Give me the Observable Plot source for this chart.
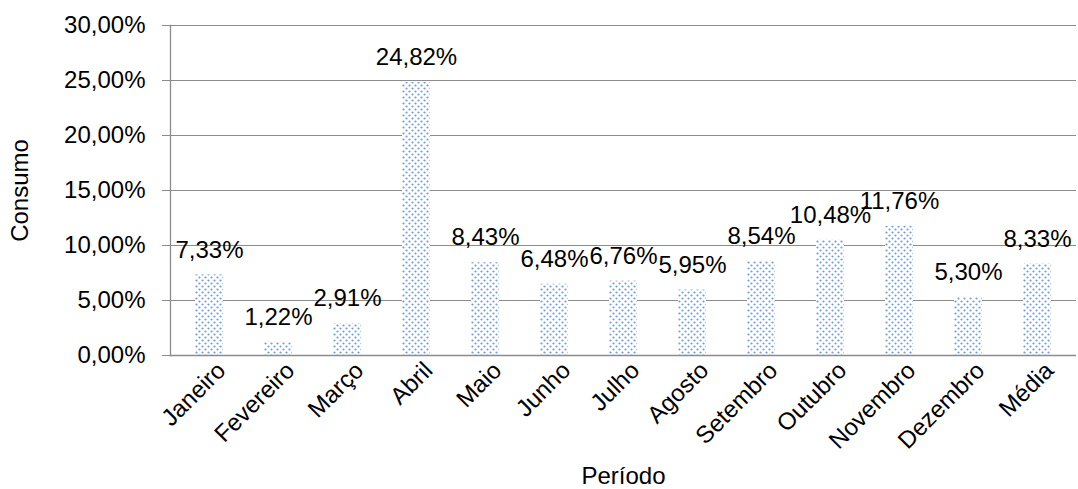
<!DOCTYPE html>
<html><head><meta charset="utf-8">
<script src="https://cdn.jsdelivr.net/npm/d3@7"></script>
<script src="https://cdn.jsdelivr.net/npm/@observablehq/plot@0.6"></script>
<style>body{margin:0;background:#fff;font-family:"Liberation Sans",Arial,sans-serif}</style>
</head><body>
<svg width="0" height="0" style="position:absolute">
  <defs>
    <pattern id="dots" patternUnits="userSpaceOnUse" width="6" height="6">
      <rect width="6" height="6" fill="#ffffff"/>
      <circle cx="1.5" cy="1.5" r="1.1" fill="#6f9edf"/>
      <circle cx="4.5" cy="4.5" r="1.1" fill="#6f9edf"/>
    </pattern>
  </defs>
</svg>
<div id="chart"></div>
<script>
const periods = ["Janeiro","Fevereiro","Março","Abril","Maio","Junho","Julho","Agosto","Setembro","Outubro","Novembro","Dezembro","Média"];
const consumo = [7.33,1.22,2.91,24.82,8.43,6.48,6.76,5.95,8.54,10.48,11.76,5.30,8.33];
const yTicks = [0,5,10,15,20,25,30];

const data = periods.map((p,i)=>({periodo:p, valor:consumo[i]}));
const fmt = v => v.toFixed(2).replace(".", ",") + "%";

const chart = Plot.plot({
  width:1078, height:489,
  marginLeft:170, marginRight:2, marginTop:25, marginBottom:134,
  style:{fontFamily:"'Liberation Sans', Arial, sans-serif", fontSize:"24px", color:"#000", background:"#fff", overflow:"visible"},
  x:{domain:periods, paddingInner:0.6, paddingOuter:0.3},
  y:{domain:[0,30]},
  marks:[
    Plot.gridY(yTicks, {stroke:"#8c8c8c", strokeOpacity:1, strokeWidth:1.2}),
    Plot.frame({anchor:"left", stroke:"#8c8c8c", strokeWidth:1.3}),
    Plot.barY(data, {x:"periodo", y:"valor", fill:"url(#dots)"}),
    Plot.ruleY([0], {stroke:"#8c8c8c", strokeWidth:1.5}),
    Plot.axisY(yTicks, {tickFormat:fmt, tickSize:8, tickPadding:17, stroke:"#8c8c8c", fill:"#000", fontSize:24,
      label:"Consumo", labelAnchor:"center", labelArrow:"none", labelOffset:160}),
    Plot.axisX({tickRotate:-45, tickSize:0, tickPadding:11, dx:12, fill:"#000", fontSize:24,
      label:"Período", labelAnchor:"center", labelArrow:"none", labelOffset:128}),
    Plot.text(data, {x:"periodo", y:"valor", text:d=>fmt(d.valor), dy:-25, fill:"#000", fontSize:24})
  ]
});
document.getElementById("chart").appendChild(chart);
</script>
</body></html>
